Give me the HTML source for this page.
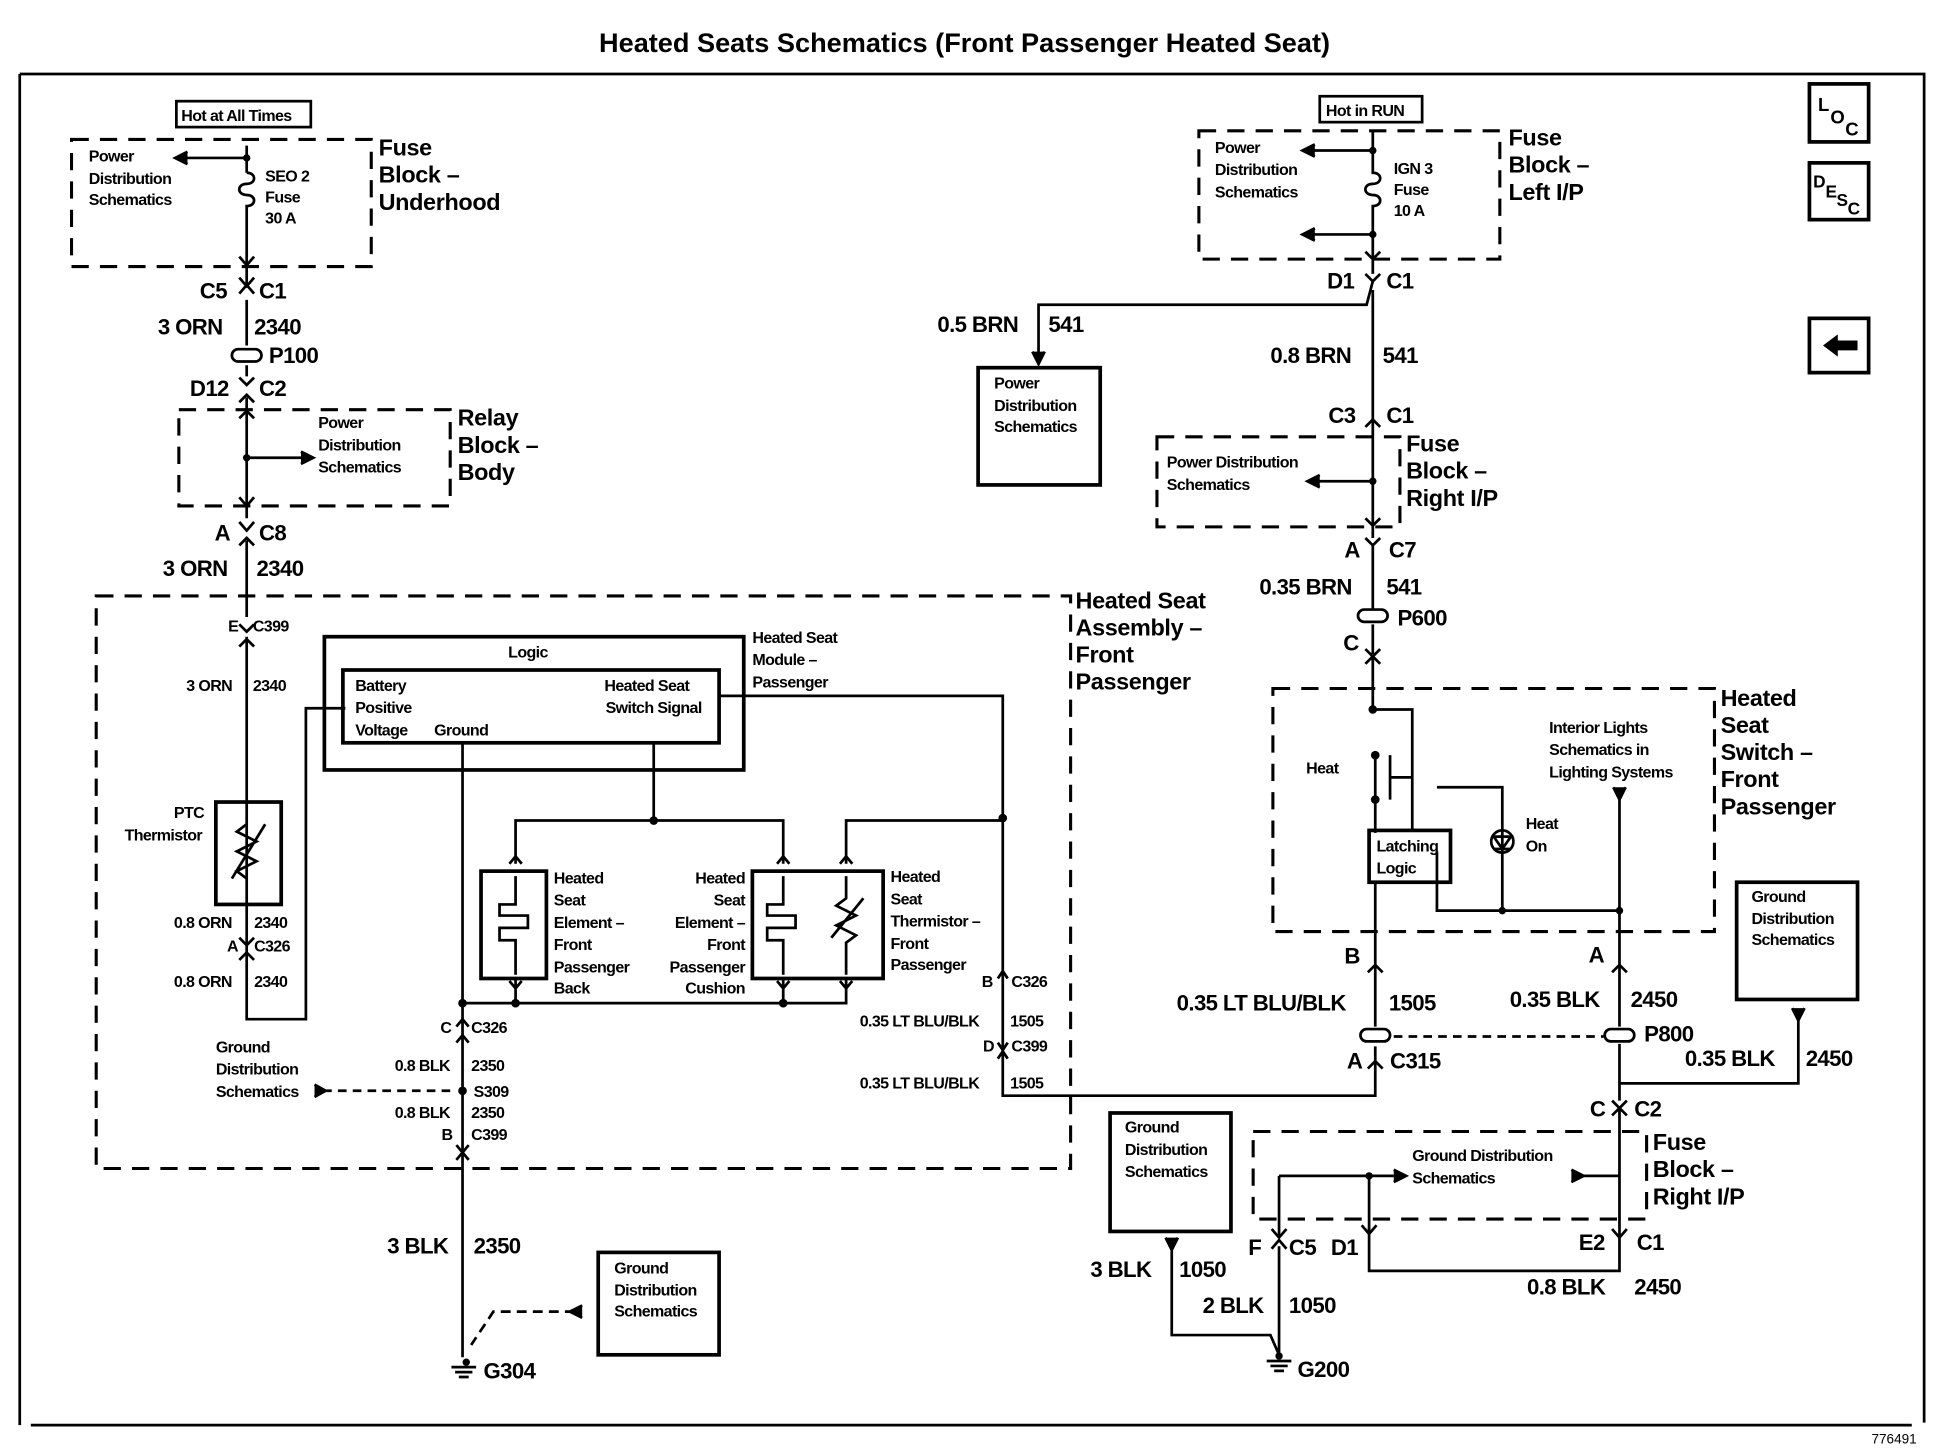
<!DOCTYPE html>
<html><head><meta charset="utf-8"><style>
html,body{margin:0;padding:0;background:#fff}
svg{display:block}
text{font-family:"Liberation Sans",Arial,sans-serif;fill:#000}
.s{font-size:13px;font-weight:bold;letter-spacing:-0.5px}
.m{font-size:18px;font-weight:bold;letter-spacing:-0.5px}
.l{font-size:19px;font-weight:bold;letter-spacing:-0.3px}
</style></head><body>
<svg width="1934" height="1456" viewBox="0 0 1568 1180" preserveAspectRatio="none" xmlns="http://www.w3.org/2000/svg">
<g fill="none" stroke="#000" stroke-width="2.2">
<path d="M16 60 H1560 V1153 M16 60 V1155 M25 1155 H1550"/>
<rect x="1467" y="68" width="48" height="47" stroke-width="3"/>
<rect x="1467" y="132" width="48" height="46" stroke-width="3"/>
<rect x="1467" y="258" width="48" height="44" stroke-width="3"/>
<rect x="143" y="82" width="109" height="21"/>
<rect x="1070" y="78" width="83" height="21"/>
<g stroke-dasharray="14,9" stroke-width="2.5">
<rect x="58" y="113" width="243" height="103"/>
<rect x="145" y="332" width="220" height="78"/>
<rect x="78" y="483" width="790" height="464"/>
<rect x="972" y="106" width="244" height="104"/>
<rect x="938" y="354" width="197" height="73"/>
<rect x="1032" y="558" width="358" height="197"/>
<rect x="1016" y="917" width="319" height="71"/>
</g>
<path d="M200 118 V140"/>
<path d="M200 140 c8 0 8 9 0 9 c-8 0 -8 9 0 9 c8 0 8 9 0 9 V230 M200 243 V280 M200 296 V305 M200 322 V420 M200 438 V500 M200 516 V826 H248 V574 H280"/>
<path d="M200 128 H145" /><path d="M152 123 L142 128 L152 133" fill="#000"/>
<path d="M194 208 L200 215 L206 208"/>
<path d="M194 225 L200 232 L206 225 M194 238 L200 231 L206 238"/>
<rect x="188" y="283" width="24" height="10" rx="5"/>
<path d="M194 306 L200 312 L206 306 M194 326 L200 320 L206 326"/>
<path d="M200 371 H248"/><path d="M244 366 L254 371 L244 376" fill="#000"/>
<path d="M194 339 L200 333 L206 339 M194 403 L200 410 L206 403"/>
<path d="M194 423 L200 430 L206 423 M194 442 L200 436 L206 442"/>
<path d="M194 506 L200 512 L206 506 M194 524 L200 518 L206 524"/>
<rect x="175" y="650" width="53" height="83" stroke-width="3"/>
<path d="M200 668 l-8 6 l16 8 l-16 8 l16 8 l-16 8 l8 6 M188 712 L215 668"/>
<path d="M194 760 L200 766 L206 760 M194 778 L200 772 L206 778"/>
<rect x="263" y="516" width="340" height="108" stroke-width="3"/>
<rect x="278" y="543" width="305" height="59" stroke-width="3"/>
<path d="M375 602 V1100"/>
<path d="M583 564 H813 V888 H1115 V870"/>
<path d="M530 602 V665 M418 700 V665 H635 V700 M686 700 V665 H813"/>
<rect x="390" y="706" width="53" height="87" stroke-width="3"/>
<rect x="610" y="706" width="106" height="87" stroke-width="3"/>
<path d="M418 710 V733 H405 V742 H428 V752 H405 V762 H418 V790"/>
<path d="M635 710 V733 H622 V742 H645 V752 H622 V762 H635 V790"/>
<path d="M686 710 V728 l-8 6 l16 8 l-16 8 l16 8 l-8 6 V790 M674 760 L700 728"/>
<path d="M413 700 L418 694 L423 700 M630 700 L635 694 L640 700 M681 700 L686 694 L691 700"/>
<path d="M418 793 V813 M635 793 V813 M686 793 V813 H375 M413 795 L418 801 L423 795 M630 795 L635 801 L640 795 M681 795 L686 801 L691 795"/>
<path d="M809 793 L813 787 L817 793 M809 845 L813 851 L817 845 M809 858 L813 852 L817 858"/>
<path d="M370 832 L375 826 L380 832 M370 845 L375 839 L380 845 M370 928 L375 934 L380 928 M370 940 L375 934 L380 940"/>
<path d="M262 884 H370" stroke-dasharray="7,5"/>
<path d="M255 879 L264 884 L255 889" fill="#000"/>
<rect x="485" y="1015" width="98" height="83" stroke-width="3"/>
<path d="M466 1063 H400 L382 1090" stroke-dasharray="8,5"/><path d="M472 1058 L462 1063 L472 1068" fill="#000"/>
<path d="M366 1108 H386 M369 1112 H383 M372 1116 H380"/>
<path d="M1113 106 V140 c8 0 8 9 0 9 c-8 0 -8 9 0 9 c8 0 8 9 0 9 V222 M1113 122 H1060 M1113 190 H1060"/>
<path d="M1066 117 L1056 122 L1066 127 M1066 185 L1056 190 L1066 195" fill="#000"/>
<path d="M1107 204 L1113 210 L1119 204 M1107 222 L1113 228 L1119 222"/>
<path d="M1113 228 L1108 247 H842 V290"/><path d="M837 285 L842 295 L847 285" fill="#000"/>
<path d="M1113 235 V342"/>
<rect x="793" y="298" width="99" height="95" stroke-width="3"/>
<path d="M1107 346 L1113 340 L1119 346 M1113 340 V436 M1113 390 H1065"/><path d="M1070 385 L1060 390 L1070 395" fill="#000"/>
<path d="M1107 420 L1113 426 L1119 420 M1107 436 L1113 442 L1119 436 M1113 442 V494 M1113 506 V530 M1107 526 L1113 532 L1119 526 M1107 538 L1113 532 L1119 538 M1113 532 V575"/>
<rect x="1101" y="494" width="24" height="10" rx="5"/>
<path d="M1113 575 H1145 V673 M1115 613 V675 M1127 612 V648 M1127 630 H1145"/>
<rect x="1110" y="673" width="66" height="42" stroke-width="3"/>
<path d="M1165 690 V738 H1313 M1165 638 H1218 V738"/>
<circle cx="1218" cy="682" r="9"/><path d="M1211 678 H1225 L1218 688 Z M1211 688 H1225"/>
<path d="M1313 645 V780"/><path d="M1308 638 L1313 648 L1318 638" fill="#000"/>
<path d="M1115 715 V832 M1115 848 V870 M1109 788 L1115 782 L1121 788 M1109 866 L1115 860 L1121 866"/>
<rect x="1103" y="834" width="24" height="10" rx="5"/>
<path d="M1130 840 H1300" stroke-dasharray="7,5"/>
<path d="M1313 780 V832 M1307 788 L1313 782 L1319 788 M1313 846 V892 M1307 892 L1313 898 L1319 892 M1307 904 L1313 898 L1319 904 M1313 898 V1030 H1110 V995"/>
<rect x="1301" y="834" width="24" height="10" rx="5"/>
<path d="M1313 878 H1458 V822"/><path d="M1453 817 L1458 827 L1463 817" fill="#000"/>
<rect x="1408" y="715" width="98" height="95" stroke-width="3"/>
<path d="M1313 953 H1283 M1037 953 H1130 M1037 953 V1003 M1110 953 V1000"/>
<path d="M1274 948 L1284 953 L1274 958 M1130 948 L1140 953 L1130 958" fill="#000"/>
<path d="M1031 996 L1037 1003 L1043 996 M1104 993 L1110 1000 L1116 993 M1307 996 L1313 1003 L1319 996 M1031 1012 L1037 1005 L1043 1012"/>
<path d="M1037 1010 V1100 M950 1008 V1082 H1030 L1037 1098"/><path d="M945 1003 L950 1013 L955 1003" fill="#000"/>
<rect x="900" y="902" width="98" height="96" stroke-width="3"/>
<path d="M1027 1103 H1047 M1030 1107 H1044 M1033 1111 H1041"/>
</g>
<g fill="#000">
<circle cx="200" cy="128" r="3"/><circle cx="200" cy="371" r="3"/><circle cx="1113" cy="122" r="3"/><circle cx="1113" cy="190" r="3"/><circle cx="1113" cy="390" r="3"/>
<circle cx="530" cy="665" r="3.5"/><circle cx="813" cy="663" r="3.5"/><circle cx="418" cy="813" r="3.5"/><circle cx="635" cy="813" r="3.5"/><circle cx="375" cy="813" r="3.5"/><circle cx="375" cy="884" r="3.5"/>
<circle cx="1113" cy="575" r="3.5"/><circle cx="1115" cy="612" r="3.5"/><circle cx="1115" cy="648" r="3.5"/><circle cx="1218" cy="738" r="3"/><circle cx="1313" cy="738" r="3"/><circle cx="1110" cy="953" r="3"/><circle cx="378" cy="1104" r="3"/><circle cx="1037" cy="1099" r="3"/>
</g>
<text x="782" y="42" text-anchor="middle" style="font-size:22px;font-weight:bold">Heated Seats Schematics (Front Passenger Heated Seat)</text>
<text x="1554" y="1170" text-anchor="end" style="font-size:11px">776491</text>
<text x="1474" y="90" class="s" style="font-size:15px">L</text><text x="1484" y="100" class="s" style="font-size:15px">O</text><text x="1496" y="110" class="s" style="font-size:15px">C</text>
<text x="1470" y="152" class="s" style="font-size:14px">D</text><text x="1480" y="160" class="s" style="font-size:14px">E</text><text x="1489" y="167" class="s" style="font-size:14px">S</text><text x="1498" y="174" class="s" style="font-size:14px">C</text>
<path d="M1478 280 L1490 271 V276 H1506 V284 H1490 V289 Z" fill="#000"/>
<text x="147" y="98" class="s">Hot at All Times</text>
<text x="1075" y="94" class="s">Hot in RUN</text>
<text class="s"><tspan x="72" y="131">Power</tspan><tspan x="72" y="149">Distribution</tspan><tspan x="72" y="166">Schematics</tspan></text>
<text class="s"><tspan x="215" y="147">SEO 2</tspan><tspan x="215" y="164">Fuse</tspan><tspan x="215" y="181">30 A</tspan></text>
<text class="l"><tspan x="307" y="126">Fuse</tspan><tspan x="307" y="148">Block –</tspan><tspan x="307" y="170">Underhood</tspan></text>
<text class="m" x="162" y="242">C5</text><text class="m" x="210" y="242">C1</text>
<text class="m" x="128" y="271">3 ORN</text><text class="m" x="206" y="271">2340</text>
<text class="m" x="218" y="294">P100</text>
<text class="m" x="154" y="321">D12</text><text class="m" x="210" y="321">C2</text>
<text class="s"><tspan x="258" y="347">Power</tspan><tspan x="258" y="365">Distribution</tspan><tspan x="258" y="383">Schematics</tspan></text>
<text class="l"><tspan x="371" y="345">Relay</tspan><tspan x="371" y="367">Block –</tspan><tspan x="371" y="389">Body</tspan></text>
<text class="m" x="174" y="438">A</text><text class="m" x="210" y="438">C8</text>
<text class="m" x="132" y="467">3 ORN</text><text class="m" x="208" y="467">2340</text>
<text class="s" x="185" y="512">E</text><text class="s" x="205" y="512">C399</text>
<text class="s" x="151" y="560">3 ORN</text><text class="s" x="205" y="560">2340</text>
<text class="s"><tspan x="141" y="663">PTC</tspan><tspan x="101" y="681">Thermistor</tspan></text>
<text class="s" x="141" y="752">0.8 ORN</text><text class="s" x="206" y="752">2340</text>
<text class="s" x="184" y="771">A</text><text class="s" x="206" y="771">C326</text>
<text class="s" x="141" y="800">0.8 ORN</text><text class="s" x="206" y="800">2340</text>
<text class="s" x="412" y="533">Logic</text>
<text class="s"><tspan x="288" y="560">Battery</tspan><tspan x="288" y="578">Positive</tspan><tspan x="288" y="596">Voltage</tspan><tspan x="352" y="596">Ground</tspan></text>
<text class="s"><tspan x="490" y="560">Heated Seat</tspan><tspan x="491" y="578">Switch Signal</tspan></text>
<text class="s"><tspan x="610" y="521">Heated Seat</tspan><tspan x="610" y="539">Module –</tspan><tspan x="610" y="557">Passenger</tspan></text>
<text class="l"><tspan x="872" y="493">Heated Seat</tspan><tspan x="872" y="515">Assembly –</tspan><tspan x="872" y="537">Front</tspan><tspan x="872" y="559">Passenger</tspan></text>
<text class="s"><tspan x="449" y="716">Heated</tspan><tspan x="449" y="734">Seat</tspan><tspan x="449" y="752">Element –</tspan><tspan x="449" y="770">Front</tspan><tspan x="449" y="788">Passenger</tspan><tspan x="449" y="805">Back</tspan></text>
<text class="s" text-anchor="end"><tspan x="604" y="716">Heated</tspan><tspan x="604" y="734">Seat</tspan><tspan x="604" y="752">Element –</tspan><tspan x="604" y="770">Front</tspan><tspan x="604" y="788">Passenger</tspan><tspan x="604" y="805">Cushion</tspan></text>
<text class="s"><tspan x="722" y="715">Heated</tspan><tspan x="722" y="733">Seat</tspan><tspan x="722" y="751">Thermistor –</tspan><tspan x="722" y="769">Front</tspan><tspan x="722" y="786">Passenger</tspan></text>
<text class="s" x="796" y="800">B</text><text class="s" x="820" y="800">C326</text>
<text class="s" x="697" y="832">0.35 LT BLU/BLK</text><text class="s" x="819" y="832">1505</text>
<text class="s" x="797" y="852">D</text><text class="s" x="820" y="852">C399</text>
<text class="s" x="697" y="882">0.35 LT BLU/BLK</text><text class="s" x="819" y="882">1505</text>
<text class="s" x="357" y="837">C</text><text class="s" x="382" y="837">C326</text>
<text class="s" x="320" y="868">0.8 BLK</text><text class="s" x="382" y="868">2350</text>
<text class="s" x="384" y="889">S309</text>
<text class="s"><tspan x="175" y="853">Ground</tspan><tspan x="175" y="871">Distribution</tspan><tspan x="175" y="889">Schematics</tspan></text>
<text class="s" x="320" y="906">0.8 BLK</text><text class="s" x="382" y="906">2350</text>
<text class="s" x="358" y="924">B</text><text class="s" x="382" y="924">C399</text>
<text class="m" x="314" y="1016">3 BLK</text><text class="m" x="384" y="1016">2350</text>
<text class="s"><tspan x="498" y="1032">Ground</tspan><tspan x="498" y="1050">Distribution</tspan><tspan x="498" y="1067">Schematics</tspan></text>
<text class="m" x="392" y="1117">G304</text>
<text class="s"><tspan x="985" y="124">Power</tspan><tspan x="985" y="142">Distribution</tspan><tspan x="985" y="160">Schematics</tspan></text>
<text class="s"><tspan x="1130" y="141">IGN 3</tspan><tspan x="1130" y="158">Fuse</tspan><tspan x="1130" y="175">10 A</tspan></text>
<text class="l"><tspan x="1223" y="118">Fuse</tspan><tspan x="1223" y="140">Block –</tspan><tspan x="1223" y="162">Left I/P</tspan></text>
<text class="m" x="1076" y="234">D1</text><text class="m" x="1124" y="234">C1</text>
<text class="m" x="760" y="269">0.5 BRN</text><text class="m" x="850" y="269">541</text>
<text class="s"><tspan x="806" y="315">Power</tspan><tspan x="806" y="333">Distribution</tspan><tspan x="806" y="350">Schematics</tspan></text>
<text class="m" x="1030" y="294">0.8 BRN</text><text class="m" x="1121" y="294">541</text>
<text class="m" x="1077" y="343">C3</text><text class="m" x="1124" y="343">C1</text>
<text class="s"><tspan x="946" y="379">Power Distribution</tspan><tspan x="946" y="397">Schematics</tspan></text>
<text class="l"><tspan x="1140" y="366">Fuse</tspan><tspan x="1140" y="388">Block –</tspan><tspan x="1140" y="410">Right I/P</tspan></text>
<text class="m" x="1090" y="452">A</text><text class="m" x="1126" y="452">C7</text>
<text class="m" x="1021" y="482">0.35 BRN</text><text class="m" x="1124" y="482">541</text>
<text class="m" x="1133" y="507">P600</text>
<text class="m" x="1089" y="527">C</text>
<text class="l"><tspan x="1395" y="572">Heated</tspan><tspan x="1395" y="594">Seat</tspan><tspan x="1395" y="616">Switch –</tspan><tspan x="1395" y="638">Front</tspan><tspan x="1395" y="660">Passenger</tspan></text>
<text class="s" x="1059" y="627">Heat</text>
<text class="s"><tspan x="1116" y="690">Latching</tspan><tspan x="1116" y="708">Logic</tspan></text>
<text class="s"><tspan x="1256" y="594">Interior Lights</tspan><tspan x="1256" y="612">Schematics in</tspan><tspan x="1256" y="630">Lighting Systems</tspan></text>
<text class="s"><tspan x="1237" y="672">Heat</tspan><tspan x="1237" y="690">On</tspan></text>
<text class="s"><tspan x="1420" y="731">Ground</tspan><tspan x="1420" y="749">Distribution</tspan><tspan x="1420" y="766">Schematics</tspan></text>
<text class="m" x="1090" y="781">B</text><text class="m" x="1288" y="780">A</text>
<text class="m" x="954" y="819">0.35 LT BLU/BLK</text><text class="m" x="1126" y="819">1505</text>
<text class="m" x="1224" y="816">0.35 BLK</text><text class="m" x="1322" y="816">2450</text>
<text class="m" x="1333" y="844">P800</text>
<text class="m" x="1092" y="866">A</text><text class="m" x="1127" y="866">C315</text>
<text class="m" x="1366" y="864">0.35 BLK</text><text class="m" x="1464" y="864">2450</text>
<text class="m" x="1289" y="905">C</text><text class="m" x="1325" y="905">C2</text>
<text class="l"><tspan x="1340" y="932">Fuse</tspan><tspan x="1340" y="954">Block –</tspan><tspan x="1340" y="976">Right I/P</tspan></text>
<text class="s"><tspan x="1145" y="941">Ground Distribution</tspan><tspan x="1145" y="959">Schematics</tspan></text>
<text class="s"><tspan x="912" y="918">Ground</tspan><tspan x="912" y="936">Distribution</tspan><tspan x="912" y="954">Schematics</tspan></text>
<text class="m" x="1012" y="1017">F</text><text class="m" x="1045" y="1017">C5</text><text class="m" x="1079" y="1017">D1</text>
<text class="m" x="1280" y="1013">E2</text><text class="m" x="1327" y="1013">C1</text>
<text class="m" x="884" y="1035">3 BLK</text><text class="m" x="956" y="1035">1050</text>
<text class="m" x="975" y="1064">2 BLK</text><text class="m" x="1045" y="1064">1050</text>
<text class="m" x="1238" y="1049">0.8 BLK</text><text class="m" x="1325" y="1049">2450</text>
<text class="m" x="1052" y="1116">G200</text>
</svg>
</body></html>
